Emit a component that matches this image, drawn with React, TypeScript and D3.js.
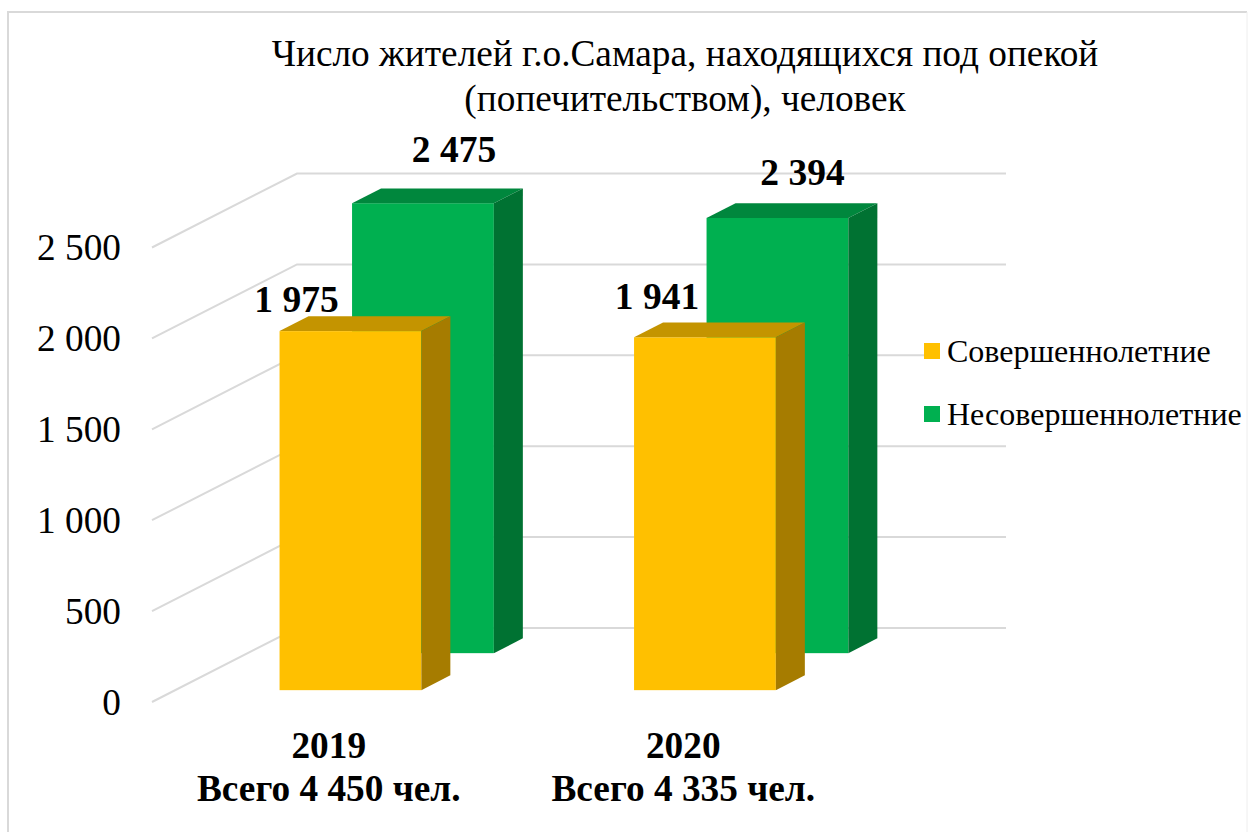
import React from 'react';
import * as d3 from 'd3';

const categories = ['2019', '2020'];
const totals = ['Всего 4 450 чел.', 'Всего 4 335 чел.'];
const adults = [1975, 1941];
const minors = [2475, 2394];
const seriesNames = ['Совершеннолетние', 'Несовершеннолетние'];
const yTicks = [0, 500, 1000, 1500, 2000, 2500];
const titleLines = [
    'Число жителей г.о.Самара, находящихся под опекой',
    '(попечительством), человек',
];

const width = 1248;
const height = 832;
const serif = '"Liberation Serif", serif';
const grid = '#d9d9d9';

// floor depth of the fake 3d box
const depthX = 145;
const depthY = 74;
const barDepth = 0.2;
const gridLeft = 152;
const gridRight = 861;

const y = d3.scaleLinear().domain([0, 2500]).range([702, 247.5]);
// bars sit 2px left of the grid in the original
const x = d3.scaleBand<string>().domain(categories).range([gridLeft - 2, gridRight - 2]).paddingInner(0.6).paddingOuter(0.3);
const fmt = d3.formatLocale({ decimal: ',', thousands: ' ', grouping: [3], currency: ['', ''] }).format(',d');

// project a point on the floor/wall: depth 0 = front, 1 = back wall
const px = (v: number, d: number) => v + d * depthX;
const py = (v: number, d: number) => y(v) - d * depthY;
const pts = (list: number[][]) => list.map(p => p.join(',')).join(' ');

const series = [
    { values: adults, depth: 0.16, front: '#ffc000', top: '#c49400', side: '#a67c00', labelDx: [-54, -48], labelDy: [-19, -28] },
    { values: minors, depth: 0.66, front: '#00b050', top: '#00873d', side: '#007232', labelDx: [31, 25], labelDy: [-41, -33] },
];

function Bar({ cat, value, s }: { cat: string; value: number; s: typeof series[number] }) {
    const x0 = px(x(cat)!, s.depth);
    const w = x.bandwidth();
    const yTop = py(value, s.depth);
    const yBase = py(0, s.depth);
    const dx = barDepth * depthX;
    const dy = barDepth * depthY;
    return (
        <g>
            <rect x={x0} y={yTop} width={w} height={yBase - yTop} fill={s.front} />
            <polygon points={pts([[x0, yTop], [x0 + dx, yTop - dy], [x0 + w + dx, yTop - dy], [x0 + w, yTop]])} fill={s.top} />
            <polygon points={pts([[x0 + w, yTop], [x0 + w + dx, yTop - dy], [x0 + w + dx, yBase - dy], [x0 + w, yBase]])} fill={s.side} />
        </g>
    );
}

export default function App() {
    const drawOrder = [series[1], series[0]];
    return (
        <svg width={width} height={height} style={{ position: 'absolute', left: 0, top: 0, background: '#fff' }} fontFamily={serif}>
            <polyline points={pts([[8, height], [8, 12], [1247, 12]])} fill="none" stroke={grid} strokeWidth={2} />
            <line x1={1247} x2={1247} y1={12} y2={height} stroke="#eeeeee" strokeWidth={1} />

            {titleLines.map((t, i) => (
                <text key={t} x={685} y={66 + i * 45} textAnchor="middle" fontSize={37.3} fill="#000">{t}</text>
            ))}

            {/* grid: side wall and back wall */}
            {yTicks.map(t => (
                <polyline key={t} points={pts([[px(gridLeft, 0), py(t, 0)], [px(gridLeft, 1), py(t, 1)], [px(gridRight, 1), py(t, 1)]])}
                    fill="none" stroke={grid} strokeWidth={2} />
            ))}

            {drawOrder.map((s, si) => categories.map((c, i) => (
                <Bar key={c + si} cat={c} value={s.values[i]} s={s} />
            )))}

            {yTicks.map(t => (
                <text key={t} x={121} y={y(t) + 12.5} textAnchor="end" fontSize={37.3} fill="#000">{fmt(t)}</text>
            ))}

            {series.map(s => categories.map((c, i) => (
                <text key={c + s.front} x={px(x(c)!, s.depth) + x.bandwidth() / 2 + s.labelDx[i]} y={py(s.values[i], s.depth) + s.labelDy[i]}
                    textAnchor="middle" fontSize={37.5} fontWeight="bold" fill="#000">{fmt(s.values[i])}</text>
            )))}

            {categories.map((c, i) => (
                <g key={c} textAnchor="middle" fontSize={37.3} fontWeight="bold" fill="#000">
                    <text x={x(c)! + x.bandwidth() / 2 + 1.5} y={758}>{c}</text>
                    <text x={x(c)! + x.bandwidth() / 2 + 1.5} y={801}>{totals[i]}</text>
                </g>
            ))}

            {/* legend box hides the grid behind it */}
            <rect x={924} y={335} width={320} height={100} fill="#fff" />
            {seriesNames.map((n, i) => (
                <g key={n}>
                    <rect x={924} y={343 + i * 63} width={16} height={16} fill={series[i].front} />
                    <text x={947} y={362 + i * 63} fontSize={32} fill="#000">{n}</text>
                </g>
            ))}
        </svg>
    );
}
